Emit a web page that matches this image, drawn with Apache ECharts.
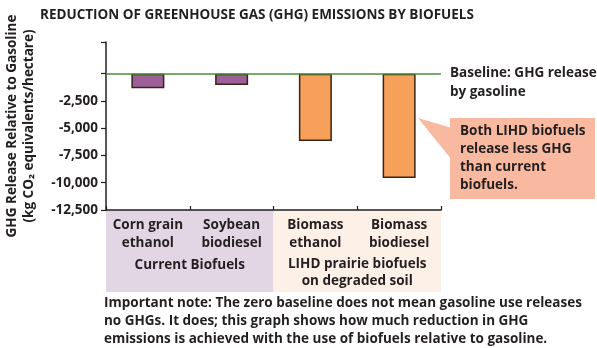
<!DOCTYPE html>
<html>
<head>
<meta charset="utf-8">
<script src="https://cdn.jsdelivr.net/npm/echarts@6/dist/echarts.min.js"></script>
<style>
html,body{margin:0;padding:0;background:#fff;}
#c{width:597px;height:348px;}
</style>
</head>
<body>
<div id="c"></div>
<script>
var categories = ['Corn grain\nethanol', 'Soybean\nbiodiesel', 'Biomass\nethanol', 'Biomass\nbiodiesel'];
var values = [-1330, -1050, -6180, -9570];
var groupNames = ['Current Biofuels', 'LIHD prairie biofuels\non degraded soil'];
var tickValues = [-12500, -10000, -7500, -5000, -2500];
var tickMarks = [-12500, -10000, -7500, -5000, -2500, 0, 2900];

var FONT = '"Open Sans"';
var dark = '#231f20';
var purple = '#9c5f98';
var orange = '#f7a05a';

var chart = echarts.init(document.getElementById('c'), null, {renderer: 'canvas'});

function fmt(v){ return '-' + Math.abs(v).toLocaleString('en-US'); }

var option = {
  animation: false,
  backgroundColor: '#fff',
  textStyle: {fontFamily: FONT},
  title: {
    text: 'REDUCTION OF GREENHOUSE GAS (GHG) EMISSIONS BY BIOFUELS',
    left: 35, top: 3,
    textStyle: {fontFamily: FONT, fontSize: 13.5, fontWeight: 'bold', color: dark}
  },
  grid: {left: 106, top: 42, width: 335, height: 168, outerBoundsMode: 'none', containLabel: false},
  xAxis: {
    type: 'category',
    data: categories,
    axisLine: {onZero: false, lineStyle: {color: dark, width: 1.5}},
    axisTick: {show: true, inside: true, length: 4, lineStyle: {color: dark, width: 1.2}},
    axisLabel: {
      interval: 0, color: dark, fontFamily: FONT, fontWeight: 'bold', fontSize: 13.5,
      lineHeight: 18, margin: 6
    },
    z: 5
  },
  yAxis: {
    type: 'value',
    min: -12500, max: 2900, interval: 2500,
    splitLine: {show: false},
    axisLine: {show: true, lineStyle: {color: dark, width: 1.5}},
    axisTick: {show: true, length: 5, lineStyle: {color: dark, width: 1.2}, customValues: tickMarks},
    axisLabel: {color: dark, fontFamily: FONT, fontWeight: 'bold', fontSize: 13.5, margin: 8,
      customValues: tickValues, formatter: function(v){ return fmt(v); }},
    name: 'GHG Release Relative to Gasoline\n(kg CO\u2082 equivalents/hectare)',
    nameLocation: 'middle', nameRotate: 90, nameGap: 68,
    nameTextStyle: {color: dark, fontFamily: FONT, fontWeight: 'bold', fontSize: 13.5, lineHeight: 17}
  },
  series: [{
    type: 'bar',
    data: values.map(function(v, i){
      return {value: v, itemStyle: {color: i < 2 ? purple : orange}};
    }),
    barWidth: 33,
    itemStyle: {borderColor: '#3a2416', borderWidth: 1.5},
    markLine: {
      silent: true, symbol: 'none', label: {show: false},
      lineStyle: {color: '#4f8b3b', width: 1.5, type: 'solid'},
      data: [{yAxis: 0}]
    },
    z: 3
  }]
};
chart.setOption(option);

var p0 = chart.convertToPixel({xAxisIndex: 0}, 0);
var p1 = chart.convertToPixel({xAxisIndex: 0}, 1);
var p3 = chart.convertToPixel({xAxisIndex: 0}, 3);
var half = (p1 - p0) / 2;
var xL = p0 - half, xM = p1 + half, xR = p3 + half;
var yBot = chart.convertToPixel({yAxisIndex: 0}, -12500);
var yZero = chart.convertToPixel({yAxisIndex: 0}, 0);

chart.setOption({
  graphic: [
    {type: 'rect', z: -10, shape: {x: xL, y: yBot, width: xM - xL, height: 82}, style: {fill: '#e3d6e4'}},
    {type: 'rect', z: -10, shape: {x: xM, y: yBot, width: xR - xM, height: 82}, style: {fill: '#fdf0e6'}},
    {type: 'text', x: (xL + xM) / 2, y: 265, style: {text: groupNames[0], fill: dark, font: 'bold 13.5px ' + FONT, align: 'center', verticalAlign: 'middle'}},
    {type: 'text', x: (xM + xR) / 2, y: 273, style: {text: groupNames[1], fill: dark, font: 'bold 13.5px ' + FONT, align: 'center', verticalAlign: 'middle', lineHeight: 17}},
    {type: 'text', x: 450, y: yZero + 9, style: {text: 'Baseline: GHG release\nby gasoline', fill: dark, font: 'bold 13.5px ' + FONT, align: 'left', verticalAlign: 'middle', lineHeight: 19}},
    {type: 'polygon', shape: {points: [[418, 118], [452, 128], [452, 160]]}, style: {fill: '#f8b9a0'}},
    {type: 'rect', shape: {x: 450, y: 118, width: 145, height: 81}, style: {fill: '#f8b9a0'}},
    {type: 'text', x: 460, y: 158, style: {text: 'Both LIHD biofuels\nrelease less GHG\nthan current\nbiofuels.', fill: dark, font: 'bold 13.5px ' + FONT, align: 'left', verticalAlign: 'middle', lineHeight: 18}},
    {type: 'text', x: 104, y: 321, style: {text: 'Important note: The zero baseline does not mean gasoline use releases\nno GHGs. It does; this graph shows how much reduction in GHG\nemissions is achieved with the use of biofuels relative to gasoline.', fill: dark, font: 'bold 13.5px ' + FONT, align: 'left', verticalAlign: 'middle', lineHeight: 18}}
  ]
});
</script>
</body>
</html>
